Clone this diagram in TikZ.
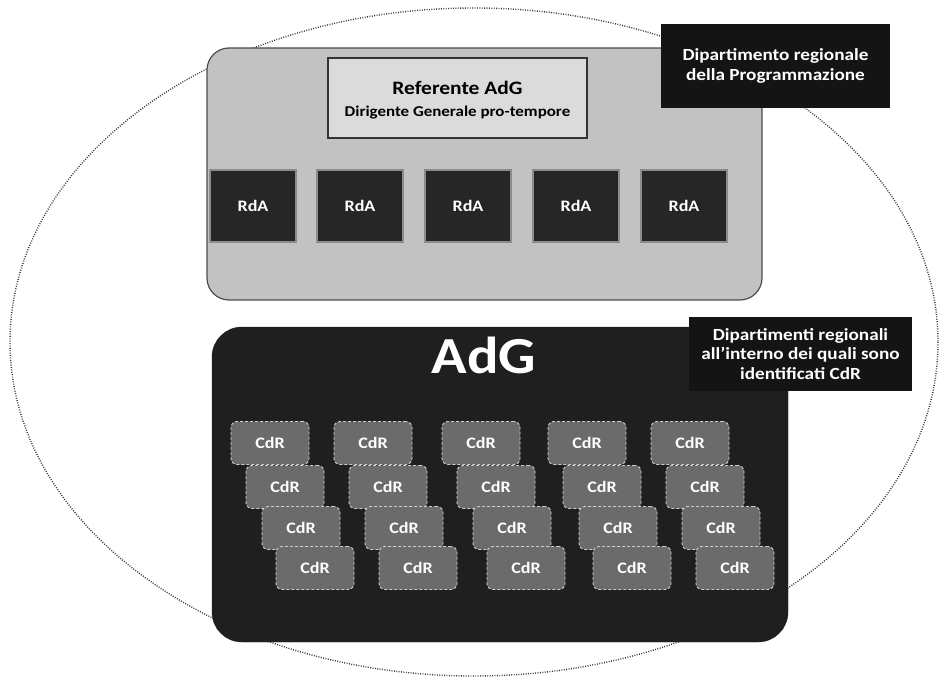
\documentclass[tikz,border=0pt]{standalone}
\usepackage{fontspec}
\setmainfont{Carlito}[FakeStretch=1.13]
\tikzset{
  ring/.style={draw=black!80, line width=1.4pt, dash pattern=on 0.9pt off 1.5pt},
  lightpanel/.style={draw=black!70, line width=1.2pt, fill=black!24, rounded corners=22pt},
  refbox/.style={draw=black!80, line width=1.2pt, fill=black!14, align=center, text=black, inner sep=0pt},
  darklabel/.style={fill=black!92, text=white, align=center, inner sep=0pt, font=\bfseries\fontsize{17}{19.5}\selectfont},
  rdabox/.style={fill=black!85, draw=black!45, line width=2.5pt, minimum width=86pt, minimum height=72pt, text=white, font=\bfseries\fontsize{16}{18}\selectfont},
  adgpanel/.style={fill=black!88, draw=black!88, rounded corners=30pt},
  cdrbox/.style={fill=black!58, draw=black!20, densely dashed, line width=0.9pt, rounded corners=6pt, minimum width=78pt, minimum height=43pt, text=white, font=\bfseries\fontsize{16}{18}\selectfont},
}
\begin{document}
\begin{tikzpicture}[x=1pt,y=-1pt]
\useasboundingbox (0,0) rectangle (944,684);
% outer dotted ellipse
\draw[ring] (474,342) ellipse [x radius=464, y radius=334];
% upper panel
\node[lightpanel, minimum width=555pt, minimum height=252pt] (panel) at (484.5,174) {};
\node[refbox, minimum width=259pt, minimum height=80pt, text height=0pt] (ref) at (457.5,98) {};
\node[font=\bfseries\fontsize{19}{22}\selectfont, text=black] (reftitle) at (457.5,88) {Referente AdG};
\node[font=\bfseries\fontsize{15}{18}\selectfont, text=black] (refsub) at (457.5,113) {Dirigente Generale pro-tempore};
\node[darklabel, minimum width=229pt, minimum height=84pt] (progr) at (775.5,66)
  {Dipartimento regionale\\della Programmazione};
\foreach \i/\x in {1/253,2/360,3/468,4/576,5/684}
  \node[rdabox] (rda\i) at (\x,206) {RdA};
% lower panel
\node[adgpanel, minimum width=576pt, minimum height=315pt] (adgpanel) at (500,484.5) {};
\node[text=white, font=\bfseries\fontsize{52}{56}\selectfont] (adgtitle) at (484,355) {AdG};
\node[darklabel, minimum width=223pt, minimum height=74pt] (cdrdept) at (800.5,354)
  {Dipartimenti regionali\\all'interno dei quali sono\\identificati CdR};
\foreach \c/\x in {1/270,2/373,3/481,4/587,5/690}
  \foreach \r/\y/\dx in {1/443/0,2/487/15,3/528/31,4/568/45}
    \node[cdrbox] (cdr\c-\r) at ({\x+\dx},\y) {CdR};
\end{tikzpicture}
\end{document}
